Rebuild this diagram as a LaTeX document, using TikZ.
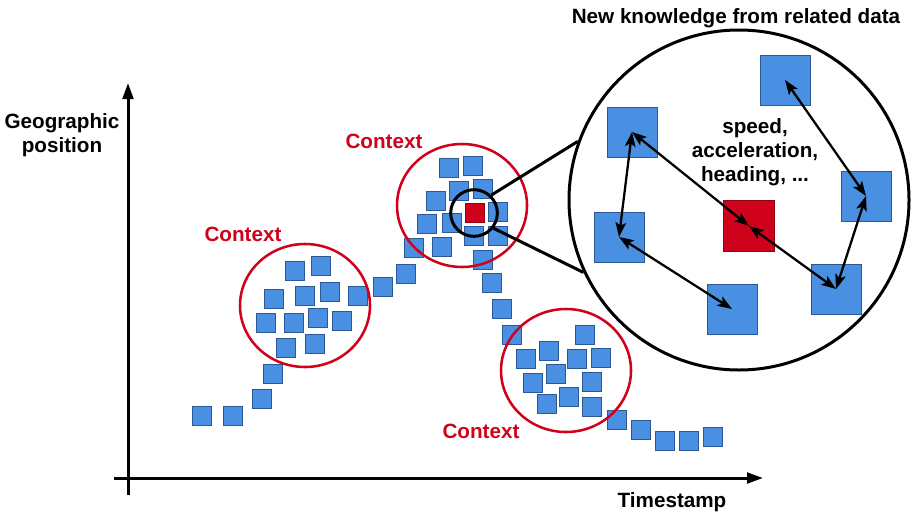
\documentclass[tikz,border=0pt]{standalone}
\usepackage{fontspec}
\setmainfont{Liberation Sans}
\usetikzlibrary{arrows.meta}
\definecolor{ptblue}{RGB}{74,144,226}
\definecolor{ptedge}{RGB}{44,88,150}
\definecolor{ctxred}{RGB}{208,2,27}

\begin{document}
\begin{tikzpicture}[x=0.75pt,y=0.75pt,yscale=-1,xscale=1,
  pt/.style={draw=ptedge,fill=ptblue,line width=0.8pt,minimum size=14.5pt,inner sep=0pt},
  bigpt/.style={pt,line width=0.6pt,minimum size=37.5pt},
  redpt/.style={pt,draw=ctxred!70!black,fill=ctxred},
  lbl/.style={inner sep=0.75pt,font=\bfseries\fontsize{15.5}{18}\selectfont},
  ctxlbl/.style={lbl,text=ctxred},
  ctxring/.style={draw=ctxred,line width=1.9pt},
  axis/.style={line width=2.25pt,-{Triangle[length=12pt,width=8pt]}},
  lensline/.style={line width=2.25pt},
  dbl/.style={line width=1.7pt,{Stealth[length=11pt,width=8pt,inset=2.5pt]}-{Stealth[length=11pt,width=8pt,inset=2.5pt]}}]
\useasboundingbox (0,0) rectangle (912,514);

%Axes
\coordinate (yb) at (128,495);
\coordinate (yt) at (128,83);
\coordinate (xl) at (114,478);
\coordinate (xr) at (763,478);
\draw [axis] (yb) -- (yt);
\draw [axis] (xl) -- (xr);

% Text Node
\node [lbl,align=center] (ylabel) at (62,135) {Geographic\\position};
% Text Node
\node [lbl] (xlabel) at (672,502) {Timestamp};

%Shapes: Squares (start of track)
\node [pt] (s1) at (202,416) {};
\node [pt] (s2) at (233,416) {};
\node [pt] (s3) at (262,399) {};
\node [pt] (s4) at (273,374) {};
%Shapes: Squares (first context)
\node [pt] (a1) at (295,271) {};
\node [pt] (a2) at (321,266) {};
\node [pt] (a3) at (274,299) {};
\node [pt] (a4) at (305,296) {};
\node [pt] (a5) at (330,292) {};
\node [pt] (a6) at (358,296) {};
\node [pt] (a7) at (266,323) {};
\node [pt] (a8) at (294,323) {};
\node [pt] (a9) at (318,318) {};
\node [pt] (a10) at (342,321) {};
\node [pt] (a11) at (286,348) {};
\node [pt] (a12) at (315,344) {};
%Shapes: Squares (between)
\node [pt] (m1) at (383,287) {};
\node [pt] (m2) at (406,274) {};
%Shapes: Squares (second context)
\node [pt] (b1) at (449,168) {};
\node [pt] (b2) at (473,166) {};
\node [pt] (b3) at (459,191) {};
\node [pt] (b4) at (483,189) {};
\node [pt] (b5) at (436,201) {};
\node [pt] (b6) at (427,224) {};
\node [pt] (b7) at (452,223) {};
\node [pt] (b8) at (498,212) {};
\node [pt] (b9) at (474,236) {};
\node [pt] (b10) at (498,236) {};
\node [pt] (b11) at (414,248) {};
\node [pt] (b12) at (442,247) {};
\node [pt] (b13) at (483,260) {};
\node [redpt] (focus) at (475,213) {};
%Shapes: Squares (going down)
\node [pt] (n1) at (492,283) {};
\node [pt] (n2) at (502,309) {};
\node [pt] (n3) at (512,335) {};
%Shapes: Squares (third context)
\node [pt] (c1) at (585,335) {};
\node [pt] (c2) at (526,359) {};
\node [pt] (c3) at (549,351) {};
\node [pt] (c4) at (577,359) {};
\node [pt] (c5) at (601,358) {};
\node [pt] (c6) at (533,383) {};
\node [pt] (c7) at (556,374) {};
\node [pt] (c8) at (592,382) {};
\node [pt] (c9) at (547,404) {};
\node [pt] (c10) at (569,397) {};
\node [pt] (c11) at (592,407) {};
%Shapes: Squares (end of track)
\node [pt] (e1) at (617,420) {};
\node [pt] (e2) at (641,430) {};
\node [pt] (e3) at (665,441) {};
\node [pt] (e4) at (689,441) {};
\node [pt] (e5) at (713,437) {};

%Shape: Ellipses (contexts)
\draw [ctxring] (305,305.5) ellipse [x radius=65, y radius=61.5];
\draw [ctxring] (462,205.5) ellipse [x radius=65, y radius=61.5];
\draw [ctxring] (566,370.5) ellipse [x radius=65, y radius=61.5];
% Text Node
\node [ctxlbl] (ctx1) at (243,234) {Context};
\node [ctxlbl] (ctx2) at (384,141) {Context};
\node [ctxlbl] (ctx3) at (481,431) {Context};

%Shape: Circle (lens)
\node [circle,draw,line width=2.25pt,minimum size=35pt,inner sep=0pt] (lens) at (474,213) {};
%Shape: Circle (zoom)
\node [circle,draw,line width=2.25pt,minimum size=255pt,inner sep=0pt] (zoomring) at (739,200) {};
\draw [lensline] (lens.46) -- (zoomring.160);
\draw [lensline] (lens.-38) -- (zoomring.205);

% Text Node
\node [lbl] (newknow) at (736,18) {New knowledge from related data};

%Shapes: Squares (zoomed in)
\node [bigpt] (ztop) at (785,80) {};
\node [bigpt] (zul) at (632,132) {};
\node [bigpt] (zrm) at (866,196) {};
\node [bigpt] (zll) at (619,237) {};
\node [bigpt] (zrl) at (836,289) {};
\node [bigpt] (zbot) at (732,309) {};
\node [bigpt,redpt,minimum size=38.5pt] (zfocus) at (749,226) {};

% Text Node
\node [lbl,align=center] (quant) at (755,152) {speed,\\acceleration,\\heading, ...};

\draw [dbl] (zul.center) -- (zll.center);
\draw [dbl] (zul.center) -- (zfocus.center);
\draw [dbl] (zfocus.center) -- (zrl.center);
\draw [dbl] (zll.center) -- (zbot.center);
\draw [dbl] (ztop.center) -- (zrm.center);
\draw [dbl] (zrm.center) -- (zrl.center);

\end{tikzpicture}
\end{document}
